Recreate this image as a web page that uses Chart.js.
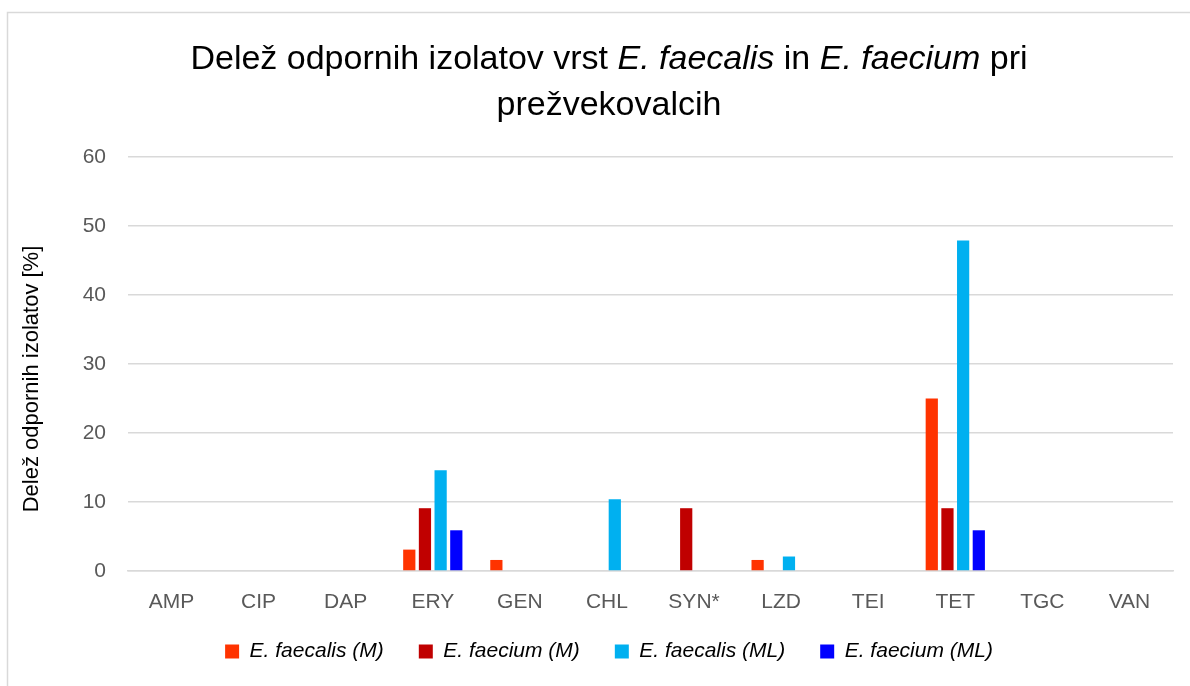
<!DOCTYPE html>
<html>
<head>
<meta charset="utf-8">
<script src="https://cdn.jsdelivr.net/npm/chart.js@4/dist/chart.umd.min.js"></script>
<style>
  html, body { margin: 0; padding: 0; background: #fff; }
  #wrap { width: 1190px; height: 686px; position: relative; }
</style>
</head>
<body>
<div id="wrap"><canvas id="chart" width="1190" height="686"></canvas></div>
<script>
const categories = ["AMP", "CIP", "DAP", "ERY", "GEN", "CHL", "SYN*", "LZD", "TEI", "TET", "TGC", "VAN"];

const faecalisM  = [0, 0, 0, 3.1, 1.6, 0, 0, 1.6, 0, 25.0, 0, 0];
const faeciumM   = [0, 0, 0, 9.1, 0, 0, 9.1, 0, 0, 9.1, 0, 0];
const faecalisML = [0, 0, 0, 14.6, 0, 10.4, 0, 2.1, 0, 47.9, 0, 0];
const faeciumML  = [0, 0, 0, 5.9, 0, 0, 0, 0, 0, 5.9, 0, 0];

const seriesNames = ["E. faecalis (M)", "E. faecium (M)", "E. faecalis (ML)", "E. faecium (ML)"];
const seriesColors = ["#FF3300", "#C00000", "#00B0F0", "#0000FF"];

const yTicks = [0, 10, 20, 30, 40, 50, 60];
const yTitle = "Delež odpornih izolatov [%]";

// title pieces: [text, italic]
const titleLine1 = [
  ["Delež odpornih izolatov vrst ", false],
  ["E. faecalis", true],
  [" in ", false],
  ["E. faecium", true],
  [" pri", false],
];
const titleLine2 = [["prežvekovalcih", false]];

const FONT = "'Liberation Sans', sans-serif";

/* frame, title and y title drawn on the canvas */
const framePlugin = {
  id: "frame",
  afterLayout(c) {
    // nudge the legend up/right a bit, like the excel layout
    const lg = c.legend;
    lg.top -= 11; lg.bottom -= 11;
    lg.left += 12; lg.right += 12;
  },
  beforeDraw(c) {
    const ctx = c.ctx;
    ctx.save();
    ctx.fillStyle = "#fff";
    ctx.fillRect(0, 0, c.width, c.height);
    ctx.strokeStyle = "#d9d9d9";
    ctx.lineWidth = 1.5;
    ctx.strokeRect(7.5, 12.5, 1220, 720);
    ctx.restore();
  },
  afterDraw(c) {
    const ctx = c.ctx;
    const cx = 609;
    const size = 34;
    function line(parts, y) {
      ctx.save();
      ctx.fillStyle = "#000";
      ctx.textBaseline = "alphabetic";
      let w = 0;
      parts.forEach(([t, it]) => {
        ctx.font = (it ? "italic " : "") + size + "px " + FONT;
        w += ctx.measureText(t).width;
      });
      let x = cx - w / 2;
      parts.forEach(([t, it]) => {
        ctx.font = (it ? "italic " : "") + size + "px " + FONT;
        ctx.fillText(t, x, y);
        x += ctx.measureText(t).width;
      });
      ctx.restore();
    }
    line(titleLine1, 69);
    line(titleLine2, 115);

    // y axis title
    ctx.save();
    ctx.translate(32, 379);
    ctx.rotate(-Math.PI / 2);
    ctx.font = "22px " + FONT;
    ctx.fillStyle = "#000";
    ctx.textAlign = "center";
    ctx.textBaseline = "middle";
    ctx.fillText(yTitle, 0, 0);
    ctx.restore();
  },
};

const datasets = [faecalisM, faeciumM, faecalisML, faeciumML].map((d, i) => ({
  label: seriesNames[i],
  data: d,
  backgroundColor: seriesColors[i],
  borderWidth: 0,
  categoryPercentage: 0.72,
  barPercentage: 0.78,
}));

new Chart(document.getElementById("chart"), {
  type: "bar",
  data: { labels: categories, datasets },
  options: {
    responsive: false,
    animation: false,
    layout: { padding: { left: 21, right: 17, top: 157, bottom: 3 } },
    plugins: {
      title: { display: false },
      tooltip: { enabled: false },
      legend: {
        position: "bottom",
        labels: {
          boxWidth: 14,
          boxHeight: 14,
          padding: 35,
          color: "#000",
          font: { family: FONT, size: 21, style: "italic" },
        },
      },
    },
    scales: {
      x: {
        grid: { display: false, drawTicks: false },
        border: { color: "#d9d9d9", width: 1.5 },
        ticks: { color: "#595959", font: { family: FONT, size: 21 }, padding: 19 },
        afterFit: (s) => { s.height = 46; },
      },
      y: {
        min: 0,
        max: 60,
        afterBuildTicks: (s) => { s.ticks = yTicks.map((v) => ({ value: v })); },
        grid: { color: "#d9d9d9", lineWidth: 1.5, drawTicks: false },
        border: { display: false },
        ticks: { color: "#595959", font: { family: FONT, size: 21 }, padding: 22 },
        afterFit: (s) => { s.width = 107; },
      },
    },
  },
  plugins: [framePlugin],
});
</script>
</body>
</html>
